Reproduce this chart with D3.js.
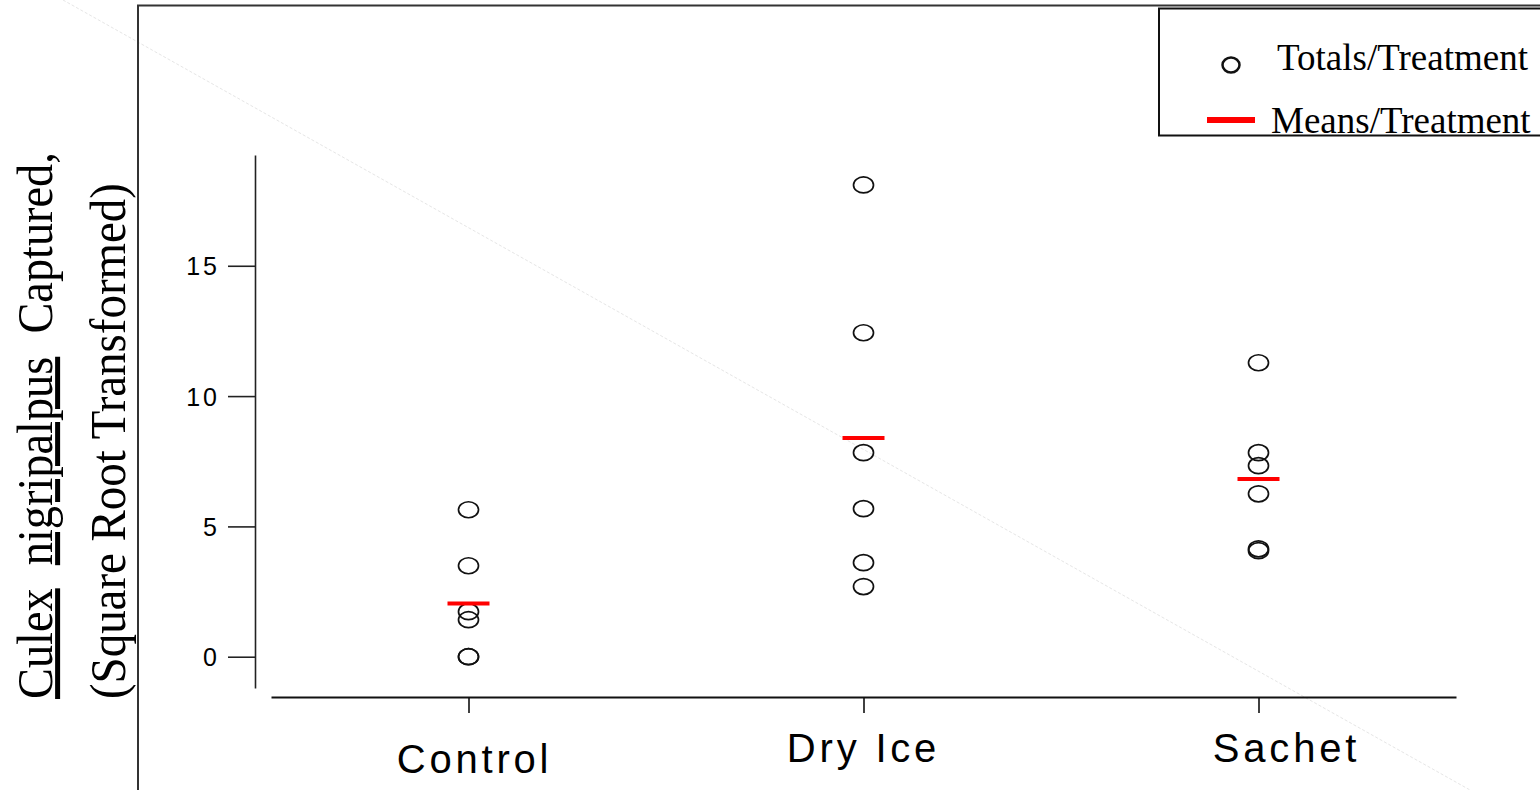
<!DOCTYPE html>
<html>
<head>
<meta charset="utf-8">
<script src="https://cdn.jsdelivr.net/npm/d3@7"></script>
<style>
  html, body { margin: 0; padding: 0; background: #fff; }
  svg { display: block; }
</style>
</head>
<body>
<svg id="chart" width="1540" height="790"></svg>
<script>
// ---- data ----
const categories = ["Control", "Dry Ice", "Sachet"];
const controlTotals = [5.64, 3.49, 1.73, 1.42, 0, 0];
const dryIceTotals = [18.1, 12.43, 7.83, 5.68, 3.61, 2.69];
const sachetTotals = [11.28, 7.83, 7.33, 6.25, 4.14, 4.07];
const yTicks = [0, 5, 10, 15];
const legendLabels = ["Totals/Treatment", "Means/Treatment"];
const yTitleLine1 = ["Culex", "nigripalpus", "Captured,"];
const yTitleLine2 = "(Square Root Transformed)";

const seriesByCategory = [controlTotals, dryIceTotals, sachetTotals];

// ---- layout ----
const svg = d3.select("#chart");
const sans = "'Liberation Sans', Arial, sans-serif";
const serif = "'Liberation Serif', 'Times New Roman', serif";

const y = d3.scaleLinear().domain([-1.2, 19.25]).range([688, 155]);
const x = d3.scalePoint().domain(categories).range([271, 1456]).padding(0.5);

// faint diagonal
svg.append("line")
  .attr("x1", 63).attr("y1", 0).attr("x2", 1470).attr("y2", 790)
  .attr("stroke", "#e6e6e6").attr("stroke-width", 1).attr("stroke-dasharray", "3,2");

// outer frame (top + left)
svg.append("path")
  .attr("d", "M138,790 L138,5.5 L1540,5.5")
  .attr("fill", "none").attr("stroke", "#333").attr("stroke-width", 2);

// y axis
const yAxis = d3.axisLeft(y).tickValues(yTicks).tickSize(27).tickSizeOuter(0).tickFormat("");
const gy = svg.append("g").attr("transform", "translate(255,0)").call(yAxis);
gy.select(".domain").attr("stroke", "#222").attr("stroke-width", 1.6);
gy.selectAll(".tick line").attr("stroke", "#222").attr("stroke-width", 1.6);
gy.selectAll(".tick").append("text")
  .attr("x", -35).attr("dy", "0.36em")
  .attr("text-anchor", "end")
  .attr("fill", "#000")
  .style("font-family", sans).style("font-size", "25px").style("letter-spacing", "3px")
  .text(d => d);

// x axis
const xAxis = d3.axisBottom(x).tickSize(16).tickSizeOuter(0).tickFormat("");
const gx = svg.append("g").attr("transform", "translate(0,697)").call(xAxis);
gx.select(".domain").attr("stroke", "#111").attr("stroke-width", 2);
gx.selectAll(".tick line").attr("stroke", "#111").attr("stroke-width", 1.6);

const labelDx = [6, 0, 28];
const labelY = [773, 762, 762];
svg.append("g").selectAll("text").data(categories).join("text")
  .attr("x", (d, i) => x(d) + labelDx[i])
  .attr("y", (d, i) => labelY[i])
  .attr("text-anchor", "middle")
  .attr("fill", "#000")
  .style("font-family", sans).style("font-size", "40px").style("letter-spacing", "3.8px")
  .text(d => d);

// points
const pts = [];
seriesByCategory.forEach((vals, i) => vals.forEach(v => pts.push({c: categories[i], v})));
svg.append("g").selectAll("ellipse").data(pts).join("ellipse")
  .attr("cx", d => x(d.c)).attr("cy", d => y(d.v))
  .attr("rx", 10).attr("ry", 8)
  .attr("fill", "none").attr("stroke", "#111").attr("stroke-width", 1.7);

// means
const means = seriesByCategory.map((vals, i) => ({c: categories[i], m: d3.mean(vals)}));
svg.append("g").selectAll("line").data(means).join("line")
  .attr("x1", d => x(d.c) - 21).attr("x2", d => x(d.c) + 21)
  .attr("y1", d => y(d.m)).attr("y2", d => y(d.m))
  .attr("stroke", "#ff0000").attr("stroke-width", 4);

// legend
const lg = svg.append("g");
lg.append("rect").attr("x", 1159).attr("y", 8.5).attr("width", 420).attr("height", 127)
  .attr("fill", "#fff").attr("stroke", "#111").attr("stroke-width", 2);
lg.append("ellipse").attr("cx", 1231).attr("cy", 65).attr("rx", 8.5).attr("ry", 7.5)
  .attr("fill", "none").attr("stroke", "#111").attr("stroke-width", 2.5);
lg.append("line").attr("x1", 1207).attr("x2", 1255).attr("y1", 120).attr("y2", 120)
  .attr("stroke", "#ff0000").attr("stroke-width", 6);
lg.selectAll("text").data(legendLabels).join("text")
  .attr("x", (d, i) => i === 0 ? 1277 : 1271)
  .attr("y", (d, i) => i === 0 ? 70 : 133)
  .attr("fill", "#000")
  .style("font-family", serif).style("font-size", "37px")
  .text(d => d);

// y title (rotated, two lines)
function fitRotated(textSel, baseX, startY, targetLen) {
  const len = textSel.node().getComputedTextLength();
  const sx = targetLen / len;
  textSel.attr("transform", `translate(${baseX},${startY}) rotate(-90) scale(${sx},1)`);
}
const t1 = svg.append("text")
  .attr("fill", "#000").attr("text-anchor", "start")
  .style("font-family", serif).style("font-size", "50px").style("white-space", "pre");
t1.append("tspan").style("text-decoration", "underline").text(yTitleLine1[0]);
t1.append("tspan").text("  ");
t1.append("tspan").style("text-decoration", "underline").text(yTitleLine1[1]);
t1.append("tspan").text("  " + yTitleLine1[2]);
fitRotated(t1, 52, 699, 547);

const t2 = svg.append("text")
  .attr("fill", "#000").attr("text-anchor", "start")
  .style("font-family", serif).style("font-size", "50px")
  .text(yTitleLine2);
fitRotated(t2, 125, 699, 516);
</script>
</body>
</html>
